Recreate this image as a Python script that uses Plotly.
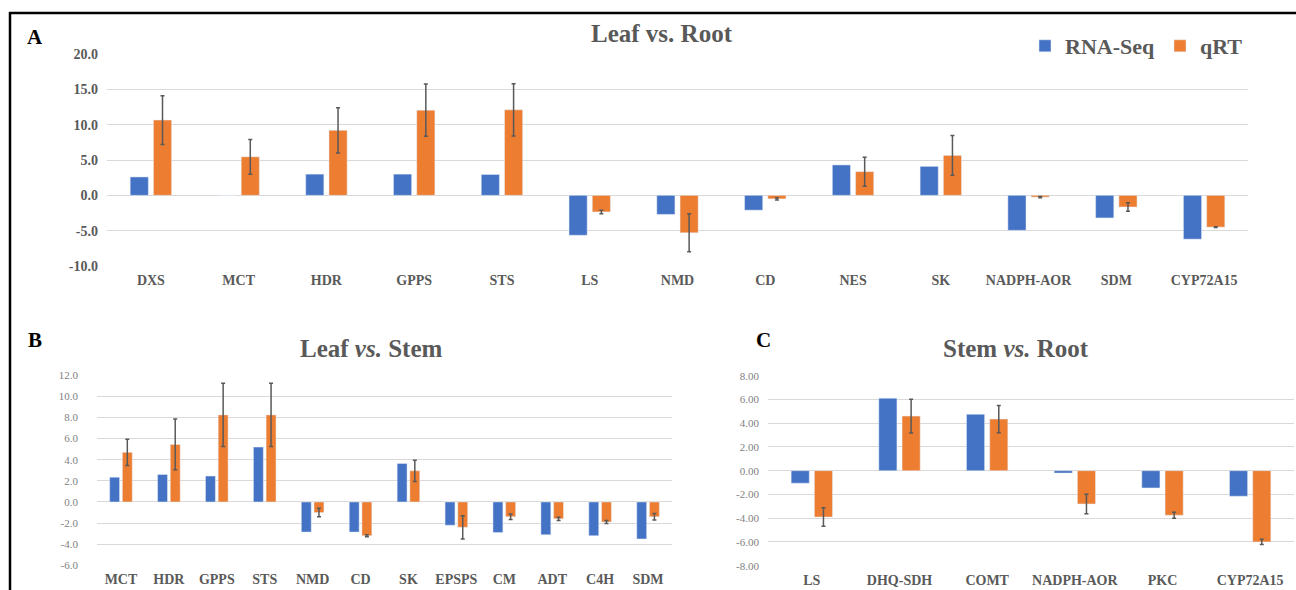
import plotly.graph_objects as go

# ---- Panel A: Leaf vs. Root ----
A_genes = ["DXS", "MCT", "HDR", "GPPS", "STS", "LS", "NMD", "CD", "NES", "SK",
           "NADPH-AOR", "SDM", "CYP72A15"]
A_rna = [2.6, 0.0, 3.0, 3.0, 2.95, -5.65, -2.7, -2.1, 4.3, 4.1, -4.95, -3.2, -6.2]
A_qrt = [10.65, 5.45, 9.2, 12.05, 12.1, -2.35, -5.3, -0.5, 3.35, 5.65, -0.25, -1.65, -4.5]
A_err = [3.45, 2.45, 3.2, 3.7, 3.7, 0.25, 2.7, 0.15, 2.05, 2.8, 0.1, 0.6, 0.05]
A_yticks = [20, 15, 10, 5, 0, -5, -10]

# ---- Panel B: Leaf vs. Stem ----
B_genes = ["MCT", "HDR", "GPPS", "STS", "NMD", "CD", "SK", "EPSPS", "CM", "ADT",
           "C4H", "SDM"]
B_rna = [2.35, 2.6, 2.45, 5.2, -2.85, -2.85, 3.65, -2.2, -2.9, -3.1, -3.2, -3.5]
B_qrt = [4.7, 5.45, 8.25, 8.25, -1.0, -3.2, 2.95, -2.4, -1.4, -1.6, -1.9, -1.4]
B_err = [1.25, 2.4, 3.0, 3.0, 0.4, 0.1, 1.0, 1.1, 0.25, 0.15, 0.15, 0.3]
B_yticks = [12, 10, 8, 6, 4, 2, 0, -2, -4, -6]

# ---- Panel C: Stem vs. Root ----
C_genes = ["LS", "DHQ-SDH", "COMT", "NADPH-AOR", "PKC", "CYP72A15"]
C_rna = [-1.05, 6.1, 4.75, -0.2, -1.45, -2.15]
C_qrt = [-3.9, 4.6, 4.35, -2.8, -3.75, -6.0]
C_err = [0.78, 1.42, 1.15, 0.82, 0.25, 0.22]
C_yticks = [8, 6, 4, 2, 0, -2, -4, -6, -8]

SERIES = ["RNA-Seq", "qRT"]
BLUE = "#4472C4"
ORANGE = "#ED7D31"
GRAY = "#595959"
LIGHTGRAY = "#7f7f7f"
GRID = "#d9d9d9"
SERIF = "Liberation Serif"

W, H = 1296, 590


def px(x):
    return x / W


def py(y):
    return 1 - y / H


fig = go.Figure()

panels = [
    ("x", "y", A_genes, A_rna, A_qrt, A_err, True),
    ("x2", "y2", B_genes, B_rna, B_qrt, B_err, False),
    ("x3", "y3", C_genes, C_rna, C_qrt, C_err, False),
]
for xa, ya, genes, rna, qrt, err, legend in panels:
    fig.add_trace(go.Bar(
        x=genes, y=rna, name=SERIES[0], marker_color=BLUE,
        xaxis=xa, yaxis=ya, showlegend=legend, legendgroup="rna",
    ))
    fig.add_trace(go.Bar(
        x=genes, y=qrt, name=SERIES[1], marker_color=ORANGE,
        xaxis=xa, yaxis=ya, showlegend=legend, legendgroup="qrt",
        error_y=dict(type="data", array=err, visible=True, color=GRAY,
                     thickness=1.5, width=2),
    ))


def xaxis_cfg(domain, anchor, size=14):
    return dict(domain=domain, anchor=anchor, type="category", automargin=False,
                showgrid=False, showline=False, zeroline=False, ticks="",
                tickfont=dict(family=SERIF, size=size, color=GRAY, weight="bold"),
                ticklabelstandoff=4, fixedrange=True)


def yaxis_cfg(domain, anchor, ticks, rng, fmt, size, color, bold, standoff):
    return dict(domain=domain, anchor=anchor, range=rng, automargin=False,
                tickvals=ticks, ticktext=[fmt.format(v) for v in ticks],
                showgrid=True, gridcolor=GRID, gridwidth=1,
                zeroline=False, showline=False, ticks="",
                tickfont=dict(family=SERIF, size=size, color=color,
                              weight="bold" if bold else "normal"),
                ticklabelstandoff=standoff, fixedrange=True)


fig.update_layout(
    width=W, height=H,
    margin=dict(l=0, r=0, t=0, b=0, autoexpand=False),
    paper_bgcolor="white", plot_bgcolor="white",
    barmode="group", bargap=0.47, bargroupgap=0.22,
    xaxis=xaxis_cfg([px(107), px(1248)], "y"),
    yaxis=yaxis_cfg([py(266), py(54)], "x", A_yticks, [-10, 20], "{:.1f}",
                    14, GRAY, True, 8),
    xaxis2=xaxis_cfg([px(97), px(672)], "y2"),
    yaxis2=yaxis_cfg([py(565.3), py(375.3)], "x2", B_yticks, [-6, 12], "{:.1f}",
                     11, LIGHTGRAY, False, 18),
    xaxis3=xaxis_cfg([px(768), px(1294)], "y3"),
    yaxis3=yaxis_cfg([py(565.7), py(375.7)], "x3", C_yticks, [-8, 8], "{:.2f}",
                     11, LIGHTGRAY, False, 8),
    legend=dict(orientation="h", x=px(1248), xanchor="right", y=py(25),
                yanchor="top", font=dict(family=SERIF, size=22, color=GRAY,
                                         weight="bold"),
                itemwidth=30, bgcolor="rgba(0,0,0,0)", traceorder="normal"),
    showlegend=True,
)

title_font = dict(family=SERIF, size=25, color=GRAY, weight="bold")
letter_font = dict(family=SERIF, size=21, color="black", weight="bold")

annotations = [
    dict(text="Leaf vs. Root", x=px(662), y=py(34), font=title_font),
    dict(text="Leaf <i>vs.</i> Stem", x=px(371), y=py(348), font=title_font),
    dict(text="Stem <i>vs.</i> Root", x=px(1016), y=py(348), font=title_font),
    dict(text="A", x=px(35), y=py(37), font=letter_font),
    dict(text="B", x=px(35), y=py(340), font=letter_font),
    dict(text="C", x=px(764), y=py(340), font=letter_font),
]
for a in annotations:
    a.update(xref="paper", yref="paper", showarrow=False,
             xanchor="center", yanchor="middle")
fig.update_layout(annotations=annotations)

# frame lines along the top and left edges
fig.add_shape(type="line", xref="paper", yref="paper",
              x0=px(9), x1=1, y0=py(13), y1=py(13),
              line=dict(color="black", width=2.5))
fig.add_shape(type="line", xref="paper", yref="paper",
              x0=px(10), x1=px(10), y0=0, y1=py(12),
              line=dict(color="black", width=2.5))

fig.write_html("out.html")
